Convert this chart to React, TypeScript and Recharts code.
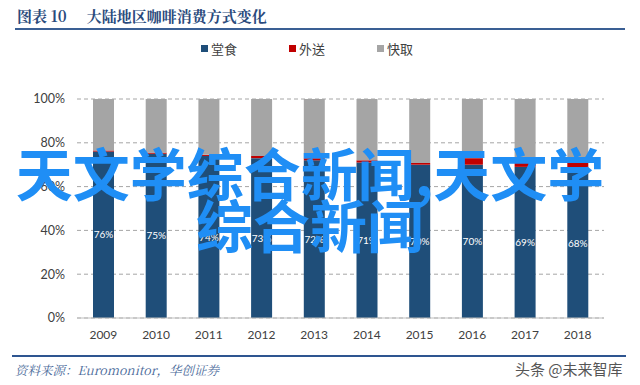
import React from 'react'
import { BarChart, Bar, XAxis, YAxis, CartesianGrid, Legend, LabelList } from 'recharts'

// 大陆地区咖啡消费方式变化 (%)
const years = ['2009', '2010', '2011', '2012', '2013', '2014', '2015', '2016', '2017', '2018']
const dineIn = [76, 75, 74, 73, 72, 71, 70, 70, 69, 68]
const delivery = [0.5, 0.5, 0.5, 1, 1, 1, 0.8, 3, 3.5, 5]
const takeaway = [23.5, 24.5, 25.5, 26, 27, 28, 29.2, 27, 27.5, 27]
const yTicks = [0, 20, 40, 60, 80, 100]

const seriesNames = ['堂食', '外送', '快取']
const seriesColors = ['#1f4e79', '#c00000', '#a5a5a5']

const chartData = years.map((y, i) => ({
  year: y,
  dineIn: dineIn[i],
  delivery: delivery[i],
  takeaway: takeaway[i],
}))

const font = 'Lato, "Noto Sans CJK SC", sans-serif'

function LegendRow() {
  return (
    <div style={{ display: 'flex', justifyContent: 'center', gap: 52, fontFamily: '"Noto Sans CJK SC", sans-serif', fontSize: 13, color: '#404040' }}>
      {seriesNames.map((n, i) => (
        <div key={n} style={{ display: 'flex', alignItems: 'center', gap: 3 }}>
          <span style={{ width: 7, height: 7, background: seriesColors[i], display: 'inline-block' }} />
          <span>{n}</span>
        </div>
      ))}
    </div>
  )
}

export default function App() {
  return (
    <div style={{ position: 'absolute', left: 0, top: 0, width: 640, height: 385, background: '#fff', overflow: 'hidden' }}>
      {/* title */}
      <div style={{ position: 'absolute', left: 17, top: 5, fontFamily: '"Noto Serif CJK SC", "Noto Sans CJK SC", serif', fontWeight: 700, fontSize: 15, color: '#2a4a7c', whiteSpace: 'pre' }}>
        <span>图表 10</span>
        <span style={{ marginLeft: 20 }}>大陆地区咖啡消费方式变化</span>
      </div>
      <div style={{ position: 'absolute', left: 15, top: 28, width: 610, height: 2, background: '#3a5f94' }} />

      <BarChart
        width={640}
        height={385}
        data={chartData}
        margin={{ top: 80, right: 36, left: 10, bottom: 37 }}
        barSize={21}
      >
        <CartesianGrid vertical={false} stroke="#a6a6a6" strokeDasharray="4 3" />
        <XAxis
          dataKey="year"
          height={30}
          axisLine={{ stroke: '#bfbfbf' }}
          tickLine={false}
          tickMargin={6}
          tick={{ fill: '#404040', fontSize: 12, fontFamily: font }}
        />
        <YAxis
          width={67}
          domain={[0, 100]}
          ticks={yTicks}
          axisLine={false}
          tickLine={false}
          tickMargin={6}
          tickFormatter={(v: number) => `${v}%`}
          tick={{ fill: '#404040', fontSize: 12.5, fontFamily: font }}
        />
        <Legend verticalAlign="top" align="center" wrapperStyle={{ top: 39 }} content={() => <LegendRow />} />
        <Bar dataKey="dineIn" name="堂食" stackId="a" fill={seriesColors[0]} isAnimationActive={false}>
          <LabelList
            dataKey="dineIn"
            position="center"
            fill="#ffffff"
            fontSize={10}
            fontFamily={font}
            formatter={(v: any) => `${v}%`}
          />
        </Bar>
        <Bar dataKey="delivery" name="外送" stackId="a" fill={seriesColors[1]} isAnimationActive={false} />
        <Bar dataKey="takeaway" name="快取" stackId="a" fill={seriesColors[2]} isAnimationActive={false} />
      </BarChart>

      {/* watermark */}
      <div style={{ position: 'absolute', left: 0, top: 145, width: 620, textAlign: 'center', fontFamily: '"Noto Sans CJK SC", sans-serif', fontWeight: 700, fontSize: 57, lineHeight: '52px', color: '#1f8ef5', pointerEvents: 'none' }}>
        天文学综合新闻,天文学综合新闻
      </div>

      <div style={{ position: 'absolute', left: 12, top: 355, width: 614, height: 2, background: '#2e5590' }} />
      <div style={{ position: 'absolute', left: 15, top: 361, fontFamily: '"Noto Serif CJK SC", "Liberation Serif", serif', fontStyle: 'italic', fontSize: 12.5, color: '#4a6a9a' }}>
        资料来源：Euromonitor，华创证券
      </div>
      <div style={{ position: 'absolute', left: 515, top: 358, fontFamily: '"Noto Sans CJK SC", sans-serif', fontSize: 15, color: '#555' }}>
        头条 @未来智库
      </div>
    </div>
  )
}
